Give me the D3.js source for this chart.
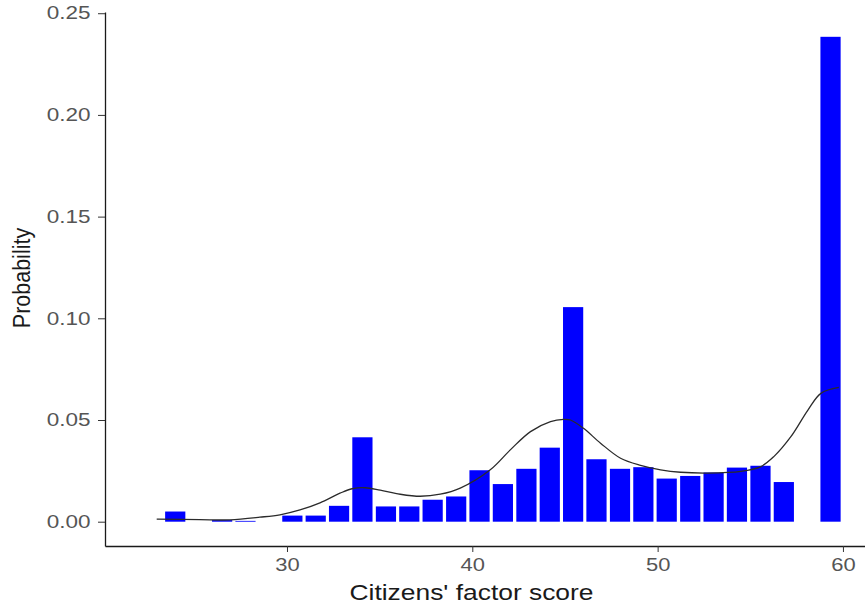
<!DOCTYPE html>
<html>
<head>
<meta charset="utf-8">
<script src="https://cdn.jsdelivr.net/npm/d3@7"></script>
<style>
  body { margin: 0; background: #fff; }
  svg { display: block; font-family: "Liberation Sans", Arial, sans-serif; }
</style>
</head>
<body>
<div id="container"></div>
<script>
let w = 865;
let h = 604;

// histogram bins (centre of each bin) and their probabilities
let binCenters = [23.97, 25.23, 26.50, 27.76, 29.02, 30.29, 31.55, 32.81, 34.07, 35.34,
  36.60, 37.86, 39.13, 40.39, 41.65, 42.92, 44.18, 45.44, 46.70, 47.97,
  49.23, 50.49, 51.76, 53.02, 54.28, 55.55, 56.81, 58.07, 59.33];
let binProb = [0.0050, 0, 0.0008, 0.0004, 0, 0.0030, 0.0030, 0.0078, 0.0415, 0.0075,
  0.0075, 0.0108, 0.0124, 0.0253, 0.0185, 0.0260, 0.0364, 0.1055, 0.0307, 0.0260,
  0.0268, 0.0212, 0.0225, 0.0242, 0.0266, 0.0275, 0.0195, 0, 0.2384];
let binWidth = 1.263;

// density curve
let densX = [22.97, 25.30, 26.92, 28.54, 29.62, 30.70, 31.78, 32.86, 33.51, 34.22,
  35.03, 36.11, 37.19, 38.27, 39.35, 40.97, 42.05, 43.14, 44.22, 44.92,
  45.30, 46.00, 46.92, 48.00, 49.08, 50.16, 51.24, 52.70, 54.49, 55.57,
  56.27, 57.19, 58.11, 58.81, 59.78];
let densY = [0.0013, 0.0010, 0.0009, 0.0022, 0.0034, 0.0058, 0.0093, 0.0140, 0.0162, 0.0167,
  0.0155, 0.0135, 0.0125, 0.0135, 0.0165, 0.0255, 0.0353, 0.0443, 0.0492, 0.0503,
  0.0500, 0.0459, 0.0386, 0.0312, 0.0277, 0.0255, 0.0243, 0.0239, 0.0247, 0.0271,
  0.0320, 0.0418, 0.0549, 0.0631, 0.0660];

let xTicks = [30, 40, 50, 60];
let yTicks = [0, 0.05, 0.10, 0.15, 0.20, 0.25];

let viz = d3.select("#container")
  .append("svg")
  .attr("width", w)
  .attr("height", h);

let xScale = d3.scaleLinear().domain([20.18, 61.19]).range([105, 865]);
let yScale = d3.scaleLinear().domain([-0.01195, 0.2506]).range([546, 12]);

// bars
viz.append("g").selectAll("rect")
  .data(binCenters)
  .enter()
  .append("rect")
  .attr("x", function (d) { return xScale(d - binWidth / 2) + 1.6; })
  .attr("width", function (d) { return xScale(d + binWidth / 2) - xScale(d - binWidth / 2) - 3.2; })
  .attr("y", function (d, i) { return yScale(binProb[i]); })
  .attr("height", function (d, i) { return yScale(0) - yScale(binProb[i]); })
  .attr("fill", "#0000ff");

// density line
let line = d3.line()
  .x(function (d, i) { return xScale(d); })
  .y(function (d, i) { return yScale(densY[i]); })
  .curve(d3.curveCatmullRom.alpha(0.5));

viz.append("path")
  .datum(densX)
  .attr("d", line)
  .attr("fill", "none")
  .attr("stroke", "#2b2b2b")
  .attr("stroke-width", 1.3);

// axes
let xAxis = d3.axisBottom(xScale).tickValues(xTicks).tickSize(6).tickSizeOuter(0);
let xAxisGroup = viz.append("g")
  .attr("transform", "translate(0," + 546 + ")")
  .call(xAxis);
xAxisGroup.selectAll("text")
  .attr("y", 12)
  .attr("font-size", 18)
  .attr("fill", "#555")
  .attr("transform", "scale(1.22,1)");

let yAxis = d3.axisLeft(yScale).tickValues(yTicks).tickSize(7).tickSizeOuter(0)
  .tickFormat(d3.format(".2f"));
let yAxisGroup = viz.append("g")
  .attr("transform", "translate(105,0)")
  .call(yAxis);
yAxisGroup.selectAll("text")
  .attr("x", 0)
  .attr("font-size", 18)
  .attr("fill", "#555")
  .attr("transform", "translate(-14.5,0) scale(1.25,1)");

viz.selectAll(".domain").attr("stroke", "#1a1a1a").attr("stroke-width", 1.3);
viz.selectAll(".tick line").attr("stroke", "#333");

// axis titles
viz.append("text")
  .attr("transform", "translate(471.5,600) scale(1.2,1)")
  .attr("text-anchor", "middle")
  .attr("font-size", 22)
  .attr("fill", "#1a1a1a")
  .text("Citizens' factor score");

viz.append("text")
  .attr("transform", "translate(30,278) rotate(-90) scale(1,1.15)")
  .attr("text-anchor", "middle")
  .attr("font-size", 21.5)
  .attr("fill", "#1a1a1a")
  .text("Probability");
</script>
</body>
</html>
